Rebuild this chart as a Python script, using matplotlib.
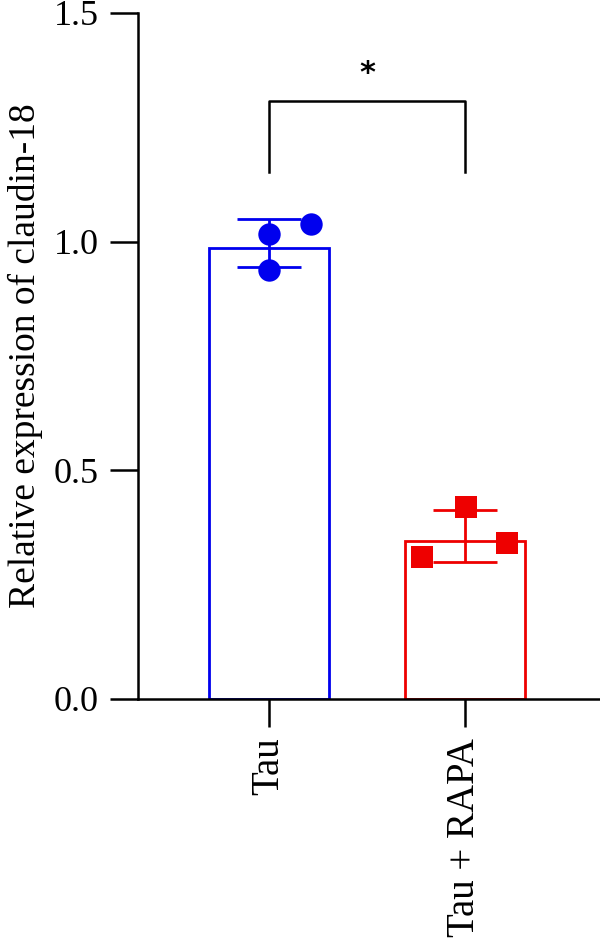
import matplotlib
matplotlib.use("Agg")
import matplotlib.pyplot as plt

groups = ["Tau", "Tau + RAPA"]
means = [0.987, 0.345]
err_low = [0.945, 0.299]
err_high = [1.050, 0.413]
tau_points = [1.017, 1.039, 0.937]
rapa_points = [0.419, 0.310, 0.341]
colors = ["#0000ee", "#ee0000"]

plt.rcParams["font.family"] = ["Liberation Serif", "DejaVu Serif"]

fig = plt.figure(figsize=(6, 9.41), dpi=100)
ax = fig.add_axes([0.23, 0.2572, 0.77, 0.729])

xpos = [0, 1]
for i in range(2):
    ax.bar(xpos[i], means[i], width=0.612, facecolor="none",
           edgecolor=colors[i], linewidth=2.0, zorder=2)
    ax.errorbar(xpos[i], means[i],
                yerr=[[means[i] - err_low[i]], [err_high[i] - means[i]]],
                fmt="none", ecolor=colors[i], elinewidth=2.0,
                capsize=23, capthick=2.0, zorder=3)

# points, x offsets
ax.scatter([0, 0.214, 0], tau_points, s=260, marker="o",
           color=colors[0], zorder=4, linewidths=0)
ax.scatter([1.005, 0.781, 1.214], rapa_points, s=260, marker="s",
           color=colors[1], zorder=4, linewidths=0)

# significance bracket
ax.plot([0, 0, 1, 1], [1.153, 1.308, 1.308, 1.153], color="black",
        linewidth=1.8, clip_on=False)
ax.text(0.5, 1.335, "*", ha="center", va="bottom", fontsize=22,
        family="DejaVu Sans", fontweight="bold")

ax.set_xlim(-0.668, 1.689)
ax.set_ylim(0, 1.5)
ax.set_yticks([0, 0.5, 1.0, 1.5])
ax.set_yticklabels(["0.0", "0.5", "1.0", "1.5"])
ax.set_xticks(xpos)
ax.set_xticklabels(groups, rotation=90, fontsize=28)
ax.tick_params(axis="both", length=20, width=1.8, pad=8)
ax.tick_params(axis="y", labelsize=26)
ax.set_ylabel("Relative expression of claudin-18", fontsize=27, labelpad=8)

for s in ["top", "right"]:
    ax.spines[s].set_visible(False)
for s in ["left", "bottom"]:
    ax.spines[s].set_linewidth(1.8)

fig.savefig("out.png", dpi=100)
